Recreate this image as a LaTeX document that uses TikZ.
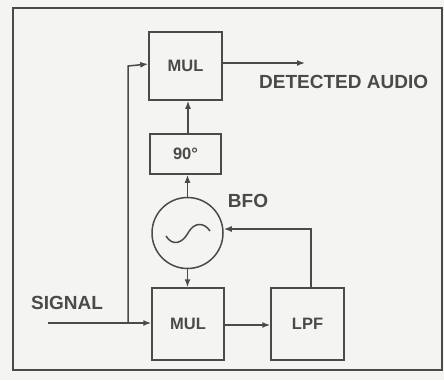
\documentclass[tikz,border=0pt]{standalone}
\usepackage{fontspec}
\setmainfont{Liberation Sans}
\usetikzlibrary{arrows.meta}
\definecolor{ink}{HTML}{4A4A4A}
\definecolor{paper}{HTML}{F4F4F2}
\begin{document}
\begin{tikzpicture}[x=1pt,y=-1pt,
  wire/.style={draw=ink,line width=1.5pt},
  arr/.style={wire,-{Latex[length=8pt,width=6pt]}},
  blk/.style={draw=ink,line width=1.5pt,fill=paper,text=ink,font=\fontsize{16.5}{18}\selectfont\bfseries,inner sep=0pt},
  lbl/.style={text=ink,font=\fontsize{19}{21}\selectfont\bfseries,inner sep=0pt}]
\useasboundingbox (0,0) rectangle (444,380);
\fill[paper] (0,0) rectangle (444,380);
\draw[ink,line width=1.8pt] (13,8) rectangle (442,370);
\draw[ink,line width=2.6pt] (13,8) -- (13,370);
% blocks
\node[blk,minimum width=73pt,minimum height=68pt] (mul1) at (185.5,66) {MUL};
\node[blk,minimum width=71pt,minimum height=40pt] (ph) at (185.5,154) {90\textdegree};
\node[circle,draw=ink,line width=1.5pt,fill=paper,minimum size=71pt,inner sep=0pt] (bfo) at (187.5,233) {};
\node[blk,minimum width=72pt,minimum height=72pt] (mul2) at (188,324) {MUL};
\node[blk,minimum width=73pt,minimum height=72pt] (lpf) at (307.5,324) {LPF};
% labels
\node[lbl] (bfol) at (248,201) {BFO};
\node[lbl] (sigl) at (67,303) {SIGNAL};
\node[lbl,anchor=west] (aud) at (259,82) {DETECTED AUDIO};
\coordinate (sigin) at (48,323);
\coordinate (br) at (128,323);
\coordinate (audout) at (305,63);
% sine
\draw[ink,line width=1.5pt] (166,236) .. controls (172,246) and (182,244) .. (188,233) .. controls (194,222) and (204,222) .. (210,231);
% connectors
\draw[arr] (sigin) -- (mul2.west |- sigin);
\draw[arr] (br) -- (br |- mul1.west) -- (mul1.west |- 0,64);
\draw[arr] (mul1.east |- audout) -- (audout);
\draw[arr] (ph.north -| 188,0) -- (mul1.south -| 188,0);
\draw[arr] (bfo.north) -- (ph.south -| bfo.north);
\draw[arr] (bfo.south) -- (mul2.north -| bfo.south);
\draw[arr] (mul2.east |- 0,325) -- (lpf.west |- 0,325);
\draw[arr] (lpf.north -| 311,0) -- (311,229) -- (bfo.east |- 0,229);
\end{tikzpicture}
\end{document}
